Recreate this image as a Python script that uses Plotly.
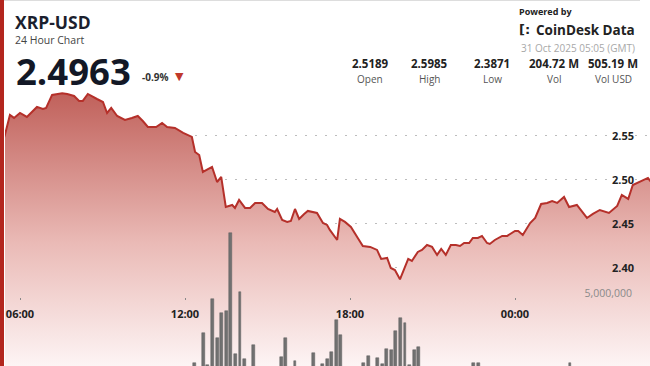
import pandas as pd
import plotly.graph_objects as go

# ---------------- data ----------------
BASE = pd.Timestamp("2025-10-30 06:00")

# minutes relative to 30 Oct 06:00 (GMT)
price_minutes = [
    -55, -33, -22, -13, 0, 15, 37, 50, 57, 70, 92, 103, 118, 129, 137, 148, 168, 181,
    190, 199, 212, 229, 244, 257, 268, 279, 297, 310, 321, 338, 356, 375, 382, 391,
    399, 419, 430, 439, 449, 463, 469, 478, 491, 502, 513, 528, 541, 556, 561, 572,
    583, 591, 600, 609, 620, 628, 648, 661, 670, 676, 692, 698, 709, 722, 737, 748,
    764, 779, 788, 801, 809, 818, 829, 847, 855, 868, 877, 888, 899, 910, 919, 929,
    940, 951, 960, 969, 980, 988, 999, 1008, 1019, 1025, 1036, 1052, 1063, 1080,
    1087, 1097, 1113, 1124, 1137, 1150, 1161, 1172, 1187, 1198, 1215, 1237, 1250,
    1265, 1285, 1303, 1313, 1327, 1337, 1370, 1375, 1385,
]
price_values = [
    2.5189, 2.5511, 2.5739, 2.5705, 2.5761, 2.5716, 2.5830, 2.5807, 2.5818, 2.5966,
    2.5985, 2.5977, 2.5955, 2.5898, 2.5898, 2.5977, 2.5920, 2.5886, 2.5761, 2.5818,
    2.5727, 2.5682, 2.5705, 2.5727, 2.5670, 2.5602, 2.5602, 2.5648, 2.5602, 2.5591,
    2.5534, 2.5489, 2.5318, 2.5284, 2.5091, 2.5148, 2.4977, 2.5034, 2.4693, 2.4716,
    2.4682, 2.4773, 2.4682, 2.4682, 2.4739, 2.4739, 2.4670, 2.4636, 2.4670, 2.4545,
    2.4523, 2.4534, 2.4670, 2.4557, 2.4614, 2.4648, 2.4625, 2.4511, 2.4489, 2.4432,
    2.4318, 2.4557, 2.4523, 2.4466, 2.4341, 2.4250, 2.4239, 2.4205, 2.4102, 2.4114,
    2.4000, 2.3977, 2.3871, 2.4102, 2.4080, 2.4182, 2.4205, 2.4261, 2.4239, 2.4148,
    2.4216, 2.4148, 2.4261, 2.4261, 2.4250, 2.4284, 2.4284, 2.4341, 2.4341, 2.4364,
    2.4284, 2.4273, 2.4318, 2.4364, 2.4364, 2.4420, 2.4420, 2.4375, 2.4511, 2.4568,
    2.4727, 2.4739, 2.4761, 2.4739, 2.4807, 2.4693, 2.4716, 2.4568, 2.4614, 2.4659,
    2.4625, 2.4705, 2.4830, 2.4784, 2.4943, 2.5023, 2.4989, 2.4963,
]

# 10-minute volume bars whose tops are visible in the picture
vol_minutes = [
    380, 400, 410, 420, 430, 440, 450, 460, 470, 480, 490, 510, 570, 580, 600, 640,
    660, 670, 680, 690, 700, 750, 760, 780, 790, 800, 810, 820, 830, 840, 850, 860,
    870, 990, 1000, 1200,
]
vol_values = [
    1.73e6, 3.13e6, 1.64e6, 4.72e6, 2.90e6, 4.07e6, 4.16e6, 7.80e6, 2.15e6, 5.05e6,
    1.92e6, 2.57e6, 2.01e6, 2.90e6, 1.82e6, 2.20e6, 1.68e6, 1.92e6, 2.24e6, 3.74e6,
    3.04e6, 1.73e6, 2.06e6, 1.96e6, 1.68e6, 2.38e6, 2.34e6, 3.22e6, 3.83e6, 3.60e6,
    1.64e6, 2.34e6, 2.48e6, 1.73e6, 1.73e6, 1.73e6,
]

price_ticks = [2.40, 2.45, 2.50, 2.55]
vol_ticks = [5_000_000]
x_tick_labels = ["06:00", "12:00", "18:00", "00:00"]

stats_values = ["2.5189", "2.5985", "2.3871", "204.72 M", "505.19 M"]
stats_labels = ["Open", "High", "Low", "Vol", "Vol USD"]

# ---------------- figure ----------------
W, H = 650, 366
ML = 5
FONT = "Open Sans"

def px(x):
    return (x - ML) / (W - ML)

def py(y):
    return 1 - y / H

price_t = [BASE + pd.Timedelta(minutes=m) for m in price_minutes]
vol_t = [BASE + pd.Timedelta(minutes=m) for m in vol_minutes]
x_ticks = [BASE + pd.Timedelta(hours=6 * i) for i in range(4)]

x0 = BASE - pd.Timedelta(minutes=32.73)
x1 = BASE + pd.Timedelta(minutes=1374.55)

fig = go.Figure()
fig.add_trace(go.Scatter(
    x=price_t, y=price_values, mode="lines",
    line=dict(color="#b5302a", width=2),
    fill="tozeroy",
    fillgradient=dict(
        type="vertical",
        colorscale=[[0, "rgb(253,244,244)"], [0.45, "rgb(234,186,182)"], [1, "rgb(192,96,90)"]],
        start=2.2886, stop=2.60,
    ),
    hoverinfo="skip",
))
fig.add_trace(go.Bar(
    x=vol_t, y=vol_values, yaxis="y2",
    width=6.5 * 60 * 1000,
    marker=dict(color="#717171", line=dict(color="#5e5e5e", width=0.5)),
    hoverinfo="skip",
))

grid = dict(showgrid=True, gridcolor="#bdbdbd", griddash="2px,8px", gridwidth=1,
            zeroline=False, showline=False, ticks="")

fig.update_layout(
    width=W, height=H,
    margin=dict(l=ML, r=0, t=0, b=0),
    paper_bgcolor="white", plot_bgcolor="white",
    showlegend=False, bargap=0,
    font=dict(family=FONT),
    xaxis=dict(
        type="date", range=[x0, x1], anchor="free", position=py(297),
        tickvals=x_ticks, ticktext=x_tick_labels,
        ticks="outside", ticklen=2, tickcolor="#888", tickwidth=1,
        ticklabelstandoff=5,
        showgrid=False, zeroline=False, showline=False,
        tickfont=dict(family=FONT, size=11, color="#222", weight="bold"),
    ),
    yaxis=dict(
        range=[2.2886, 2.7045], anchor="free", position=px(634), side="left",
        tickvals=price_ticks, ticktext=[f"{v:.2f}" for v in price_ticks],
        tickfont=dict(family=FONT, size=11, color="#222", weight="bold"),
        **grid,
    ),
    yaxis2=dict(
        range=[1.589e6, 18.69e6], overlaying="y", anchor="free", position=px(632), side="left",
        tickvals=vol_ticks, ticktext=[f"{v:,}" for v in vol_ticks],
        tickfont=dict(family=FONT, size=10.5, color="#8a8a8a"),
        **grid,
    ),
)

ann = []
def text(x, y, s, size, color, bold=False, xanchor="left", family=FONT):
    ann.append(dict(
        x=px(x), y=py(y), xref="paper", yref="paper", text=s, showarrow=False,
        xanchor=xanchor, yanchor="middle",
        font=dict(family=family, size=size, color=color, weight="bold" if bold else "normal"),
    ))

text(13, 22, "XRP-USD", 17.5, "#1b1f2e", True)
text(13, 40, "24 Hour Chart", 10.5, "#444")
text(14, 71, "2.4963", 36.5, "#131826", True)
text(140, 77, "-0.9%", 10, "#333", True)
text(173, 76, "▼", 11, "#c0392b", family="DejaVu Sans")
text(517, 11, "Powered by", 9, "#222", True)
text(517, 30, "[:", 13, "#222", True, family="DejaVu Sans")
text(534, 30, "CoinDesk Data", 13.5, "#222", True)
text(519, 48, "31 Oct 2025 05:05 (GMT)", 10, "#a8a8a8")
for cx, v, lab in zip([370, 430, 492, 554, 613], stats_values, stats_labels):
    text(cx, 64, v, 11.5, "#222", True, xanchor="center")
    text(cx, 79, lab, 10, "#555", xanchor="center")

fig.update_layout(annotations=ann)

fig.update_layout(shapes=[
    dict(type="rect", xref="paper", yref="paper", x0=px(0), x1=px(4), y0=0, y1=1,
         fillcolor="#b3261e", line=dict(width=0), layer="above"),
    dict(type="line", xref="paper", yref="paper", x0=px(4), x1=px(640), y0=py(0.5), y1=py(0.5),
         line=dict(color="#dddddd", width=1), layer="above"),
])

fig.write_html("out.html")
